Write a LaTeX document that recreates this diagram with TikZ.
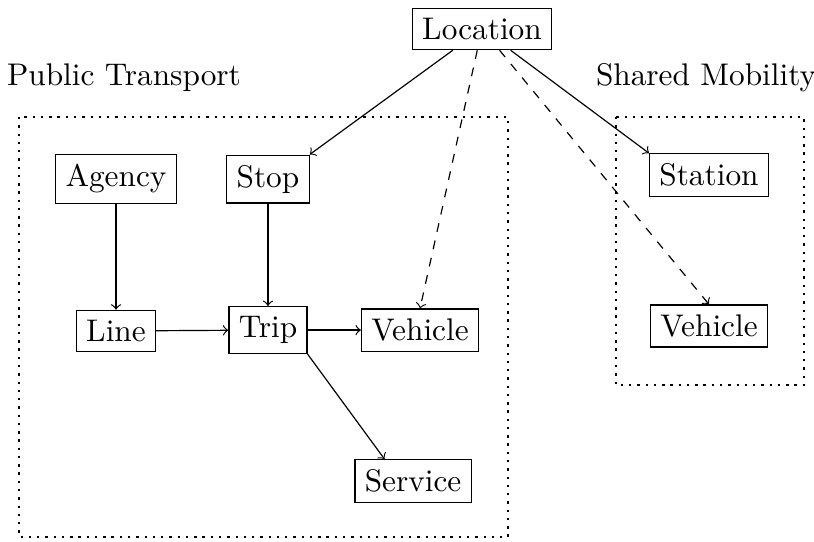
\documentclass[tikz,border=0pt]{standalone}
\usepackage{tikz}

\begin{document}
\begin{tikzpicture}[every node/.style={draw}, font=\fontsize{10.6}{13}\selectfont]
  \useasboundingbox (0,0) rectangle (9.690,-6.452);
  % Nodes
  \node (loc)  at (5.738,-0.345) {Location};
  \node (ag)   at (1.381,-2.131) {Agency};
  \node (stop) at (3.190,-2.131) {Stop};
  \node (line) at (1.381,-3.940) {Line};
  \node (trip) at (3.190,-3.929) {Trip};
  \node (veh)  at (5.000,-3.929) {Vehicle};
  \node (serv) at (4.917,-5.726) {Service};
  \node (stat) at (8.440,-2.083) {Station};
  \node (sveh) at (8.440,-3.881) {Vehicle};
  % Groups
  \node[draw=none] (ptlab) at (1.476,-0.929) {Public Transport};
  \node[draw=none] (smlab) at (8.405,-0.929) {Shared Mobility};
  \draw[dotted, thick] (0.226,-1.393) rectangle (6.048,-6.393);
  \draw[dotted, thick] (7.333,-1.393) rectangle (9.571,-4.583);
  % Public transport edges
  \draw[->] (ag) -- (line);
  \draw[->] (stop) -- (trip);
  \draw[->] (line) -- (trip);
  \draw[->] (trip) -- (veh);
  \draw[->] (trip.south east) -- ([xshift=0.36cm]serv.north west);
  % Location edges
  \draw[->] (loc) -- (stop.north east);
  \draw[->] (loc) -- (stat.north west);
  \draw[->,dashed] (loc) -- (veh.north);
  \draw[->,dashed] (loc) -- (sveh.north);
\end{tikzpicture}
\end{document}
